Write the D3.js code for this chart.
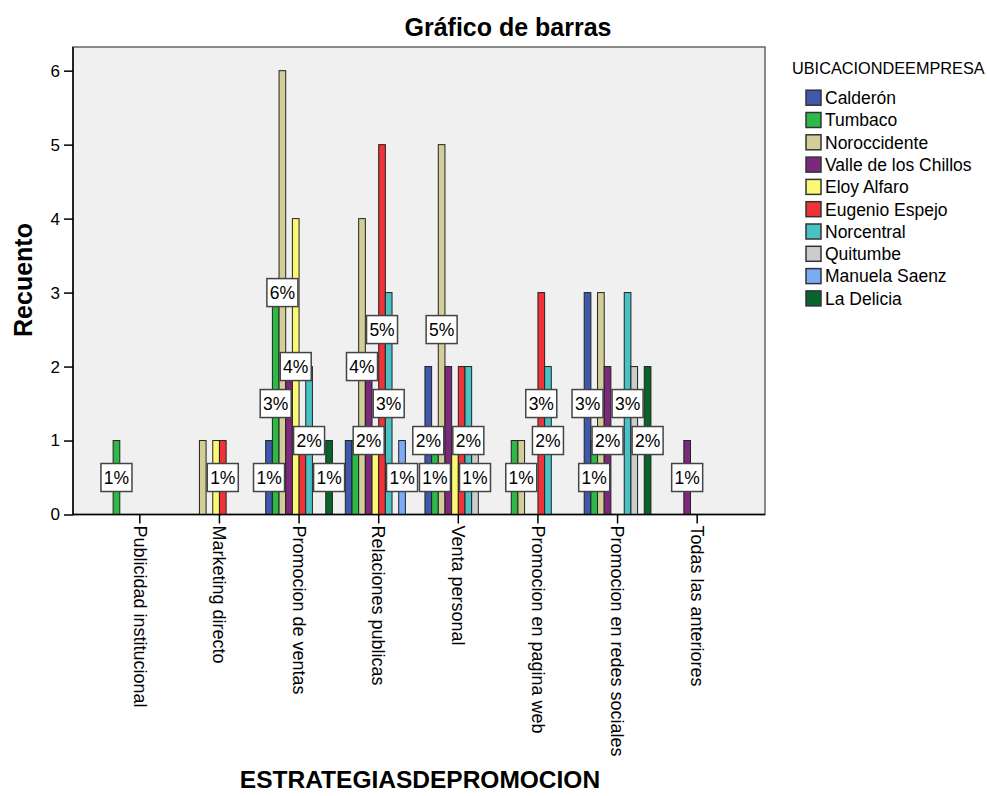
<!DOCTYPE html>
<html>
<head>
<meta charset="utf-8">
<script src="https://cdn.jsdelivr.net/npm/d3@7/dist/d3.min.js"></script>
<style>
  body { margin: 0; background: #fff; }
  svg text { font-family: "Liberation Sans", Arial, sans-serif; fill: #000; }
</style>
</head>
<body>
<svg id="chart" width="987" height="796"></svg>
<script>
// categories on the x axis
const categories = [
  'Publicidad institucional', 'Marketing directo', 'Promocion de ventas',
  'Relaciones publicas', 'Venta personal', 'Promocion en pagina web',
  'Promocion en redes sociales', 'Todas las anteriores'
];

// legend groups
const series = [
  'Calderón', 'Tumbaco', 'Noroccidente', 'Valle de los Chillos', 'Eloy Alfaro',
  'Eugenio Espejo', 'Norcentral', 'Quitumbe', 'Manuela Saenz', 'La Delicia'
];
const colors = [
  '#3E58AC', '#2EB848', '#D3CE97', '#7C287D', '#FBF873',
  '#EF3338', '#48C2C5', '#CCCCCC', '#7BAAF7', '#07652C'
];

// counts per series, one value per category
const calderon    = [0, 0, 1, 1, 2, 0, 3, 0];
const tumbaco     = [1, 0, 3, 1, 1, 1, 1, 0];
const noroccid    = [0, 1, 6, 4, 5, 1, 3, 0];
const valle       = [0, 0, 2, 2, 2, 0, 2, 1];
const eloyAlfaro  = [0, 1, 4, 1, 1, 0, 0, 0];
const eugenio     = [0, 1, 1, 5, 2, 3, 0, 0];
const norcentral  = [0, 0, 2, 3, 2, 2, 3, 0];
const quitumbe    = [0, 0, 0, 0, 1, 0, 2, 0];
const manuela     = [0, 0, 0, 1, 0, 0, 0, 0];
const laDelicia   = [0, 0, 1, 0, 0, 0, 2, 0];
const counts = [calderon, tumbaco, noroccid, valle, eloyAlfaro,
                eugenio, norcentral, quitumbe, manuela, laDelicia];

const yTicks = [0, 1, 2, 3, 4, 5, 6];
const percentBase = 100; // base used by the % labels

const plot = { left: 73, right: 765, top: 47, bottom: 514.5 };
const svg = d3.select('#chart');

const x0 = d3.scaleBand()
  .domain(categories)
  .range([plot.left + 27, plot.right - 28])
  .paddingInner(0.162)
  .paddingOuter(0.081);

const x1 = d3.scaleBand()
  .domain(series)
  .range([0, x0.bandwidth()]);

const y = d3.scaleLinear()
  .domain([0, 6.32])
  .range([plot.bottom, plot.top]);

// plot background + frame
svg.append('rect')
  .attr('x', plot.left).attr('y', plot.top)
  .attr('width', plot.right - plot.left)
  .attr('height', plot.bottom - plot.top)
  .attr('fill', '#F0F0F0')
  .attr('stroke', '#666')
  .attr('stroke-width', 1.5);

// title
svg.append('text')
  .attr('x', 508).attr('y', 36)
  .attr('text-anchor', 'middle')
  .style('font-size', '25px')
  .style('font-weight', 'bold')
  .text('Gráfico de barras');

// bars
const bars = [];
categories.forEach((cat, ci) => {
  series.forEach((s, si) => {
    const v = counts[si][ci];
    if (v > 0) bars.push({ cat, ci, s, si, v });
  });
});

svg.append('g')
  .selectAll('rect')
  .data(bars)
  .enter()
  .append('rect')
  .attr('x', d => x0(d.cat) + x1(d.s))
  .attr('y', d => y(d.v))
  .attr('width', x1.bandwidth())
  .attr('height', d => y(0) - y(d.v))
  .attr('fill', d => colors[d.si])
  .attr('stroke', '#222')
  .attr('stroke-width', 1);

// axes lines
svg.append('line')
  .attr('x1', plot.left).attr('x2', plot.left)
  .attr('y1', plot.top).attr('y2', plot.bottom)
  .attr('stroke', '#000').attr('stroke-width', 1.5);
svg.append('line')
  .attr('x1', plot.left).attr('x2', plot.right)
  .attr('y1', plot.bottom).attr('y2', plot.bottom)
  .attr('stroke', '#000').attr('stroke-width', 1.5);

const yAxis = svg.append('g')
  .attr('transform', `translate(${plot.left},0)`)
  .call(d3.axisLeft(y).tickValues(yTicks).tickFormat(d3.format('d')).tickSize(9).tickPadding(4));
yAxis.select('.domain').remove();
yAxis.selectAll('line').attr('stroke', '#000').attr('stroke-width', 1.5);
yAxis.selectAll('text')
  .style('font-size', '17px')
  .style('font-family', '"Liberation Sans", Arial, sans-serif');

const xAxis = svg.append('g')
  .attr('transform', `translate(0,${plot.bottom})`)
  .call(d3.axisBottom(x0).tickSize(9).tickPadding(3));
xAxis.select('.domain').remove();
xAxis.selectAll('line').attr('stroke', '#000').attr('stroke-width', 1.5);
xAxis.selectAll('text')
  .attr('transform', 'rotate(90)')
  .attr('x', 11)
  .attr('y', 0)
  .attr('dy', '0.35em')
  .attr('text-anchor', 'start')
  .style('font-size', '18px')
  .style('font-family', '"Liberation Sans", Arial, sans-serif');

// axis titles
svg.append('text')
  .attr('transform', 'translate(32,280) rotate(-90)')
  .attr('text-anchor', 'middle')
  .style('font-size', '25px')
  .style('font-weight', 'bold')
  .text('Recuento');

svg.append('text')
  .attr('x', 420).attr('y', 788)
  .attr('text-anchor', 'middle')
  .style('font-size', '24.5px')
  .style('font-weight', 'bold')
  .text('ESTRATEGIASDEPROMOCION');

// % labels at mid bar height, dropped when they would overlap one already placed
const boxW = 31, boxH = 28;
const placed = [];
categories.forEach((cat, ci) => {
  for (let si = series.length - 1; si >= 0; si--) {
    const v = counts[si][ci];
    if (!v) continue;
    const cx = x0(cat) + x1(series[si]) + x1.bandwidth() / 2;
    const cy = y(v / 2);
    const hit = placed.some(p => Math.abs(p.cx - cx) < boxW && Math.abs(p.cy - cy) < boxH);
    if (!hit) placed.push({ cx, cy, v });
  }
});

const labels = svg.append('g')
  .selectAll('g')
  .data(placed)
  .enter()
  .append('g')
  .attr('transform', d => `translate(${d.cx},${d.cy})`);

labels.append('rect')
  .attr('x', -boxW / 2).attr('y', -boxH / 2)
  .attr('width', boxW).attr('height', boxH)
  .attr('fill', '#fff')
  .attr('stroke', '#444')
  .attr('stroke-width', 1.5);

labels.append('text')
  .attr('text-anchor', 'middle')
  .attr('dy', '0.36em')
  .style('font-size', '17.5px')
  .text(d => Math.round(d.v / percentBase * 100) + '%');

// legend
svg.append('text')
  .attr('x', 792).attr('y', 73.5)
  .style('font-size', '16.3px')
  .text('UBICACIONDEEMPRESA');

const legend = svg.append('g')
  .selectAll('g')
  .data(series)
  .enter()
  .append('g')
  .attr('transform', (d, i) => `translate(806,${97.7 + i * 22.3})`);

legend.append('rect')
  .attr('x', 0).attr('y', -7.5)
  .attr('width', 15).attr('height', 15)
  .attr('fill', (d, i) => colors[i])
  .attr('stroke', '#333')
  .attr('stroke-width', 1.5);

legend.append('text')
  .attr('x', 19)
  .attr('dy', '0.36em')
  .style('font-size', '17.5px')
  .text(d => d);
</script>
</body>
</html>
